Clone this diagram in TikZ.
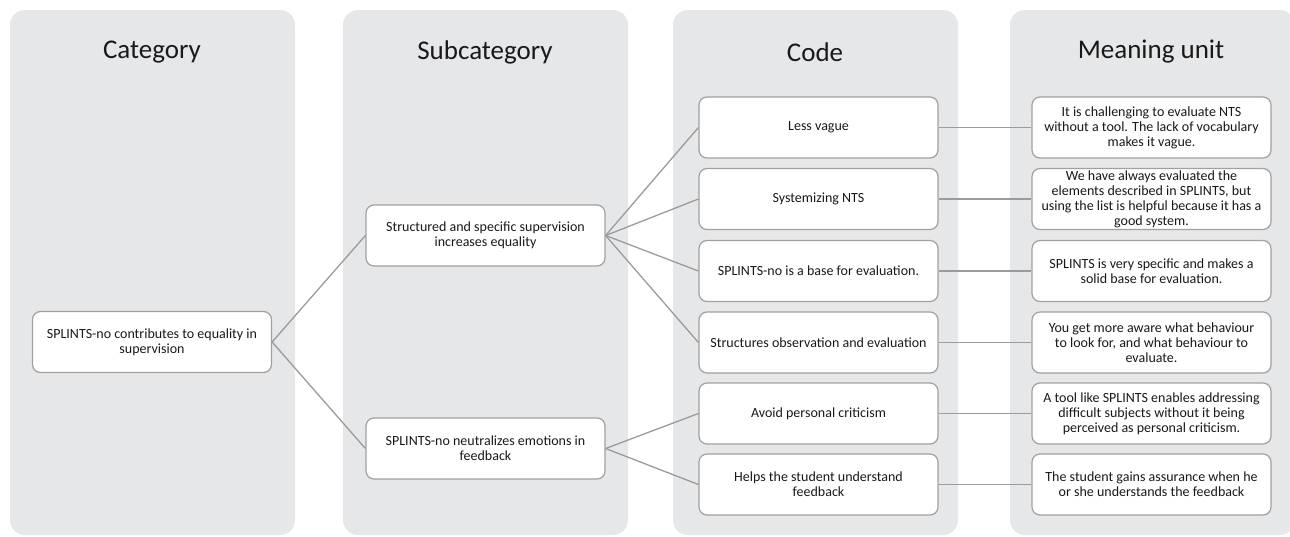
\documentclass[tikz,border=0pt]{standalone}
\usepackage{fontspec}
\setmainfont{Carlito}
\definecolor{panelgray}{RGB}{230,231,233}
\definecolor{boxline}{RGB}{160,160,160}
\definecolor{linkgray}{RGB}{155,155,155}
\definecolor{textcol}{RGB}{25,25,25}
\begin{document}
\begin{tikzpicture}[x=1pt,y=-1pt,
  panel/.style={fill=panelgray, rounded corners=15pt},
  header/.style={font=\fontsize{27}{31}\selectfont, text=textcol},
  item/.style={draw=boxline, line width=1.2pt, fill=white, rounded corners=8pt,
    minimum width=239pt, minimum height=61pt, align=center,
    inner sep=1pt, font=\fontsize{14}{15}\selectfont, text=textcol},
  link/.style={draw=linkgray, line width=1.3pt}]
\useasboundingbox (0,0) rectangle (1290,536);
% panels
\fill[panel] (10,10) rectangle (295,535);
\fill[panel] (343,10) rectangle (628,535);
\fill[panel] (673,10) rectangle (958,535);
\fill[panel] (1010,10) rectangle (1295,535);
% headers
\node[header] (h1) at (152,52) {Category};
\node[header] (h2) at (485,52) {Subcategory};
\node[header] (h3) at (815,52) {Code};
\node[header] (h4) at (1151,52) {Meaning unit};
% category
\node[item] (cat) at (152,342) {SPLINTS-no contributes to equality in\\supervision};
% subcategories
\node[item] (s1) at (485.5,235.5) {Structured and specific supervision\\increases equality};
\node[item] (s2) at (485.5,448.5) {SPLINTS-no neutralizes emotions in\\feedback};
% codes
\node[item] (c1) at (818.5,127.5) {Less vague};
\node[item] (c2) at (818.5,199) {Systemizing NTS};
\node[item] (c3) at (818.5,271) {SPLINTS-no is a base for evaluation.};
\node[item] (c4) at (818.5,342.5) {Structures observation and evaluation};
\node[item] (c5) at (818.5,413.5) {Avoid personal criticism};
\node[item] (c6) at (818.5,484.5) {Helps the student understand\\feedback};
% meaning units
\node[item] (m1) at (1151.5,127.5) {It is challenging to evaluate NTS\\without a tool. The lack of vocabulary\\makes it vague.};
\node[item] (m2) at (1151.5,199) {We have always evaluated the\\elements described in SPLINTS, but\\using the list is helpful because it has a\\good system.};
\node[item] (m3) at (1151.5,271) {SPLINTS is very specific and makes a\\solid base for evaluation.};
\node[item] (m4) at (1151.5,342.5) {You get more aware what behaviour\\to look for, and what behaviour to\\evaluate.};
\node[item] (m5) at (1151.5,413.5) {A tool like SPLINTS enables addressing\\difficult subjects without it being\\perceived as personal criticism.};
\node[item] (m6) at (1151.5,484.5) {The student gains assurance when he\\or she understands the feedback};
% connectors
\draw[link] (cat.east) -- (s1.west);
\draw[link] (cat.east) -- (s2.west);
\foreach \c in {c1,c2,c3,c4} \draw[link] (s1.east) -- (\c.west);
\foreach \c in {c5,c6} \draw[link] (s2.east) -- (\c.west);
\draw[link] (c1.east) -- (m1.west);
\draw[link] (c2.east) -- (m2.west);
\draw[link] (c3.east) -- (m3.west);
\draw[link] (c4.east) -- (m4.west);
\draw[link] (c5.east) -- (m5.west);
\draw[link] (c6.east) -- (m6.west);
\end{tikzpicture}
\end{document}
